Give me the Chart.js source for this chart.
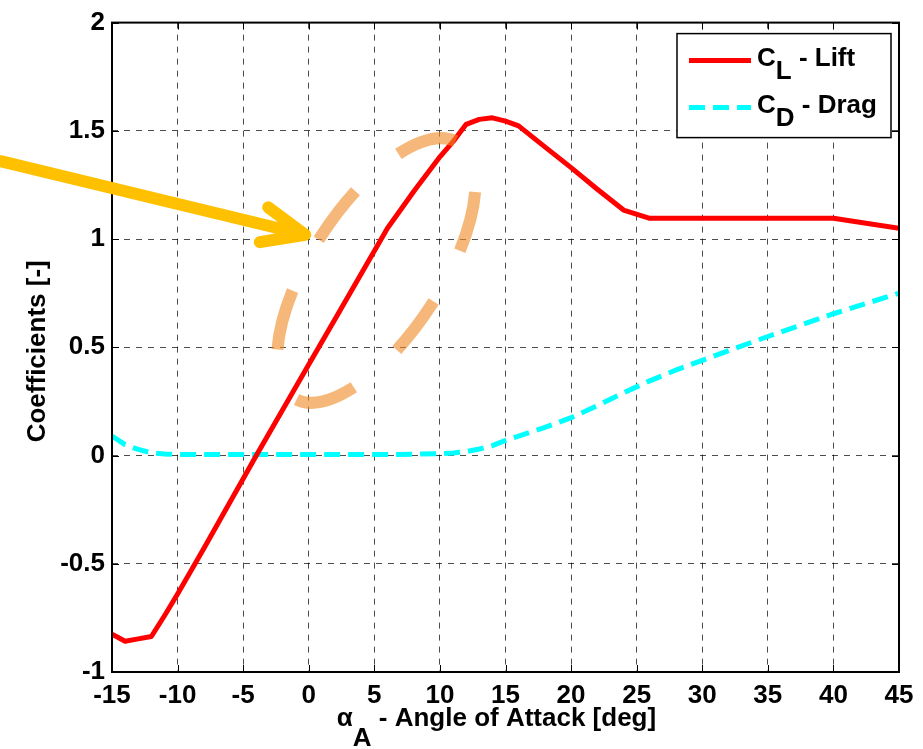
<!DOCTYPE html>
<html>
<head>
<meta charset="utf-8">
<script src="https://cdn.jsdelivr.net/npm/chart.js@4.4.1/dist/chart.umd.min.js"></script>
<style>
  html, body { margin: 0; padding: 0; background: #fff; }
  #wrap { width: 923px; height: 749px; }
</style>
</head>
<body>
<div id="wrap"><canvas id="polarChart" width="923" height="749"></canvas></div>
<script>
// angle of attack [deg] and the two coefficients read at those angles
const alphaDeg = [-15, -14, -13, -12, -11, -10, -8, -6, -4, -2, 0, 2, 4, 6, 8, 10, 11, 12, 13, 14, 15, 16, 18, 20, 22, 24, 26, 28, 30, 35, 40, 45];
const liftCoef = [-0.825, -0.858, -0.847, -0.836, -0.74, -0.64, -0.43, -0.215, 0.0, 0.21, 0.42, 0.63, 0.84, 1.05, 1.22, 1.38, 1.45, 1.53, 1.553, 1.56, 1.545, 1.523, 1.426, 1.33, 1.23, 1.134, 1.096, 1.096, 1.096, 1.096, 1.096, 1.05];
const dragCoef = [0.09, 0.05, 0.028, 0.013, 0.007, 0.005, 0.005, 0.005, 0.005, 0.005, 0.005, 0.005, 0.005, 0.005, 0.006, 0.009, 0.012, 0.018, 0.03, 0.046, 0.07, 0.09, 0.13, 0.175, 0.23, 0.29, 0.345, 0.395, 0.44, 0.55, 0.655, 0.75];

const seriesNames = ['C_L - Lift', 'C_D - Drag'];
const xTickValues = [-15, -10, -5, 0, 5, 10, 15, 20, 25, 30, 35, 40, 45];
const yTickValues = [-1, -0.5, 0, 0.5, 1, 1.5, 2];
const xTitle = 'α_A - Angle of Attack [deg]';
const yTitle = 'Coefficients [-]';

// hand-drawn highlight (data coords for anchors)
const ellipseAt = { x: 5.15, y: 0.855 };
const arrowFrom = { x: -23.5, y: 1.36 };
const arrowTo = { x: -0.27, y: 1.02 };

const FONT = 'bold 26px "Liberation Sans", Arial, sans-serif';

function drawSubText(ctx, text, x, y, drop) {
    const m = text.match(/^(.*?)_(.)(.*)$/);
    if (!m) { ctx.fillText(text, x, y); return; }
    ctx.fillText(m[1], x, y);
    x += ctx.measureText(m[1]).width;
    ctx.fillText(m[2], x, y + drop);
    x += ctx.measureText(m[2]).width;
    ctx.fillText(m[3], x, y);
}

function subTextWidth(ctx, text) {
    return ctx.measureText(text.replace('_', '')).width;
}

const decorPlugin = {
    id: 'decor',
    afterDatasetsDraw(chart) {
        const { ctx, chartArea: a, scales: { x, y } } = chart;
        ctx.save();

        // axes box + inward ticks
        ctx.strokeStyle = '#000';
        ctx.lineWidth = 2;
        ctx.strokeRect(a.left, a.top, a.right - a.left, a.bottom - a.top);
        ctx.lineWidth = 1;
        ctx.beginPath();
        xTickValues.forEach(function (v) {
            const px = Math.round(x.getPixelForValue(v)) + 0.5;
            ctx.moveTo(px, a.bottom); ctx.lineTo(px, a.bottom - 7);
            ctx.moveTo(px, a.top); ctx.lineTo(px, a.top + 7);
        });
        yTickValues.forEach(function (v) {
            const py = Math.round(y.getPixelForValue(v)) + 0.5;
            ctx.moveTo(a.left, py); ctx.lineTo(a.left + 7, py);
            ctx.moveTo(a.right, py); ctx.lineTo(a.right - 7, py);
        });
        ctx.stroke();

        // axis titles
        ctx.fillStyle = '#000';
        ctx.font = FONT;
        ctx.textBaseline = 'alphabetic';
        ctx.textAlign = 'left';
        const tw = subTextWidth(ctx, xTitle);
        drawSubText(ctx, xTitle, (a.left + a.right) / 2 - tw / 2 - 9, a.bottom + 54, 20);

        ctx.save();
        ctx.translate(38, (a.top + a.bottom) / 2 + 4);
        ctx.rotate(-Math.PI / 2);
        ctx.textAlign = 'center';
        ctx.textBaseline = 'middle';
        ctx.fillText(yTitle, 0, 0);
        ctx.restore();

        // legend
        const lx = a.right - 222, ly = a.top + 11, lw = 214, lh = 104;
        ctx.fillStyle = '#fff';
        ctx.fillRect(lx, ly, lw, lh);
        ctx.strokeStyle = '#000';
        ctx.lineWidth = 1.5;
        ctx.strokeRect(lx, ly, lw, lh);
        const ds = chart.data.datasets;
        ds.forEach(function (d, i) {
            const base = ly + 32 + i * 47;
            ctx.save();
            ctx.strokeStyle = d.borderColor;
            ctx.lineWidth = d.borderWidth;
            ctx.setLineDash(d.borderDash || []);
            ctx.beginPath();
            ctx.moveTo(lx + 12, base - 5);
            ctx.lineTo(lx + 74, base - 5);
            ctx.stroke();
            ctx.restore();
            ctx.fillStyle = '#000';
            ctx.font = FONT;
            drawSubText(ctx, d.label, lx + 80, base, 13);
        });
        ctx.restore();
    },
    afterDraw(chart) {
        const { ctx, scales: { x, y } } = chart;
        ctx.save();
        // dashed ellipse
        ctx.strokeStyle = 'rgba(240,140,40,0.62)';
        ctx.lineWidth = 12;
        ctx.setLineDash([61, 57]);
        ctx.lineDashOffset = 64;
        ctx.beginPath();
        ctx.ellipse(x.getPixelForValue(ellipseAt.x), y.getPixelForValue(ellipseAt.y), 152, 65, -57 * Math.PI / 180, 0, Math.PI * 2);
        ctx.stroke();

        // arrow
        ctx.setLineDash([]);
        ctx.strokeStyle = '#ffc000';
        ctx.lineWidth = 12;
        ctx.lineCap = 'round';
        ctx.lineJoin = 'round';
        const x0 = x.getPixelForValue(arrowFrom.x), y0 = y.getPixelForValue(arrowFrom.y);
        const x1 = x.getPixelForValue(arrowTo.x), y1 = y.getPixelForValue(arrowTo.y);
        const ang = Math.atan2(y1 - y0, x1 - x0);
        const head = 46, spread = 0.40;
        ctx.beginPath();
        ctx.moveTo(x0, y0);
        ctx.lineTo(x1, y1);
        ctx.moveTo(x1 - head * Math.cos(ang - spread), y1 - head * Math.sin(ang - spread));
        ctx.lineTo(x1, y1);
        ctx.lineTo(x1 - head * Math.cos(ang + spread), y1 - head * Math.sin(ang + spread));
        ctx.stroke();
        ctx.restore();
    }
};

document.addEventListener("DOMContentLoaded", function () {
    const ctx = document.getElementById('polarChart').getContext('2d');
    const tickFont = { family: '"Liberation Sans", Arial, sans-serif', size: 26, weight: 'bold' };

    new Chart(ctx, {
        type: 'line',
        data: {
            datasets: [{
                label: seriesNames[0],
                data: alphaDeg.map((a, i) => ({ x: a, y: liftCoef[i] })),
                borderColor: '#ff0000',
                borderWidth: 5,
                borderJoinStyle: 'round',
                pointRadius: 0,
                tension: 0,
                fill: false
            }, {
                label: seriesNames[1],
                data: alphaDeg.map((a, i) => ({ x: a, y: dragCoef[i] })),
                borderColor: '#00ffff',
                borderWidth: 5,
                borderDash: [16, 8],
                pointRadius: 0,
                tension: 0,
                fill: false
            }]
        },
        options: {
            responsive: false,
            animation: false,
            devicePixelRatio: 1,
            events: [],
            layout: { padding: { top: 19, right: 24, left: 0, bottom: 0 } },
            plugins: { legend: { display: false }, tooltip: { enabled: false } },
            scales: {
                x: {
                    type: 'linear',
                    min: xTickValues[0],
                    max: xTickValues[xTickValues.length - 1],
                    afterBuildTicks: s => { s.ticks = xTickValues.map(v => ({ value: v })); },
                    afterFit: s => { s.height = 77; },
                    grid: { color: 'rgba(0,0,0,0.7)', lineWidth: 1, drawTicks: false },
                    border: { display: false, dash: [6, 6] },
                    ticks: { font: tickFont, color: '#000', padding: 8, maxRotation: 0, autoSkip: false, callback: v => String(v) }
                },
                y: {
                    min: yTickValues[0],
                    max: yTickValues[yTickValues.length - 1],
                    afterBuildTicks: s => { s.ticks = yTickValues.map(v => ({ value: v })); },
                    afterFit: s => { s.width = 112; },
                    grid: { color: 'rgba(0,0,0,0.7)', lineWidth: 1, drawTicks: false },
                    border: { display: false, dash: [6, 6] },
                    ticks: { font: tickFont, color: '#000', padding: 7, callback: v => String(v) }
                }
            }
        },
        plugins: [decorPlugin]
    });
});
</script>
</body>
</html>
